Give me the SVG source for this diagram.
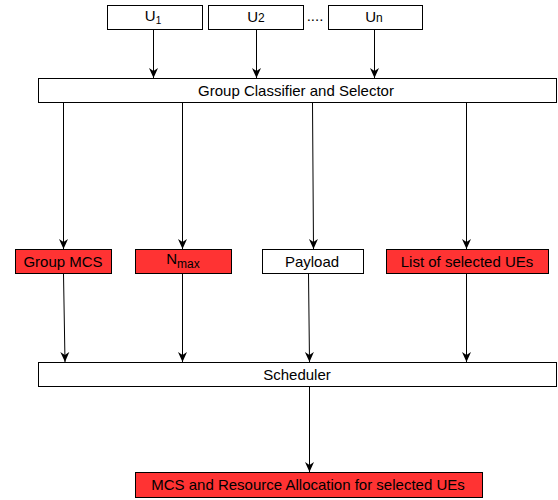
<svg xmlns="http://www.w3.org/2000/svg" width="558" height="500" viewBox="0 0 558 500">
<defs>
<marker id="arr" markerWidth="10" markerHeight="12" refX="10" refY="5" orient="auto" markerUnits="userSpaceOnUse">
<path d="M0,0.5 L10,5 L0,9.5 L3,5 Z" fill="#000"/>
</marker>
<style>
.box{fill:#fff;stroke:#000;stroke-width:1}
.red{fill:#ff3333;stroke:#000;stroke-width:1}
.t{font-family:"Liberation Sans",Arial,sans-serif;font-size:15px;fill:#000;text-anchor:middle}
.c{stroke:#000;stroke-width:1;fill:none;marker-end:url(#arr)}
</style>
</defs>
<rect width="558" height="500" fill="#fff"/>
<g id="u1"><rect class="box" x="107.5" y="5.5" width="95" height="24"/><text class="t" x="153" y="21">U<tspan font-size="10" dy="3">1</tspan></text></g>
<g id="u2"><rect class="box" x="208.5" y="5.5" width="95" height="24"/><text class="t" x="256" y="22">U<tspan font-size="12">2</tspan></text></g>
<text class="t" x="315" y="21" font-size="12">....</text>
<g id="un"><rect class="box" x="328.5" y="5.5" width="94" height="24"/><text class="t" x="374" y="22">U<tspan font-size="12">n</tspan></text></g>
<g id="gcs"><rect class="box" x="38.5" y="78.5" width="518" height="24"/><text class="t" x="296" y="96">Group Classifier and Selector</text></g>
<g id="gmcs"><rect class="red" x="15.5" y="249.5" width="96" height="24"/><text class="t" x="63" y="267">Group MCS</text></g>
<g id="nmax"><rect class="red" x="135.5" y="249.5" width="96" height="24"/><text class="t" x="183" y="264">N<tspan font-size="12" dy="4">max</tspan></text></g>
<g id="payload"><rect class="box" x="262.5" y="249.5" width="101" height="24"/><text class="t" x="312" y="267">Payload</text></g>
<g id="list"><rect class="red" x="386.5" y="249.5" width="162" height="24"/><text class="t" x="467" y="267">List  of selected UEs</text></g>
<g id="sched"><rect class="box" x="38.5" y="362.5" width="518" height="24"/><text class="t" x="297" y="380">Scheduler</text></g>
<g id="mcsra"><rect class="red" x="135.5" y="472.5" width="347" height="25"/><text class="t" x="308" y="490">MCS and Resource Allocation for selected UEs</text></g>
<g id="connectors">
<line class="c" x1="153.5" y1="30" x2="153.5" y2="78"/>
<line class="c" x1="256.5" y1="30" x2="256.5" y2="78"/>
<line class="c" x1="374.5" y1="30" x2="374.5" y2="78"/>
<line class="c" x1="63.5" y1="103" x2="63.5" y2="249"/>
<line class="c" x1="182.5" y1="103" x2="182.5" y2="249"/>
<line class="c" x1="312.5" y1="103" x2="313.5" y2="249"/>
<line class="c" x1="466.5" y1="103" x2="466.5" y2="249"/>
<line class="c" x1="63.5" y1="274" x2="65" y2="362"/>
<line class="c" x1="182.5" y1="274" x2="182.5" y2="362"/>
<line class="c" x1="308.5" y1="274" x2="309.5" y2="362"/>
<line class="c" x1="466.5" y1="274" x2="466.5" y2="362"/>
<line class="c" x1="309.5" y1="387" x2="309.5" y2="472"/>
</g>
</svg>
